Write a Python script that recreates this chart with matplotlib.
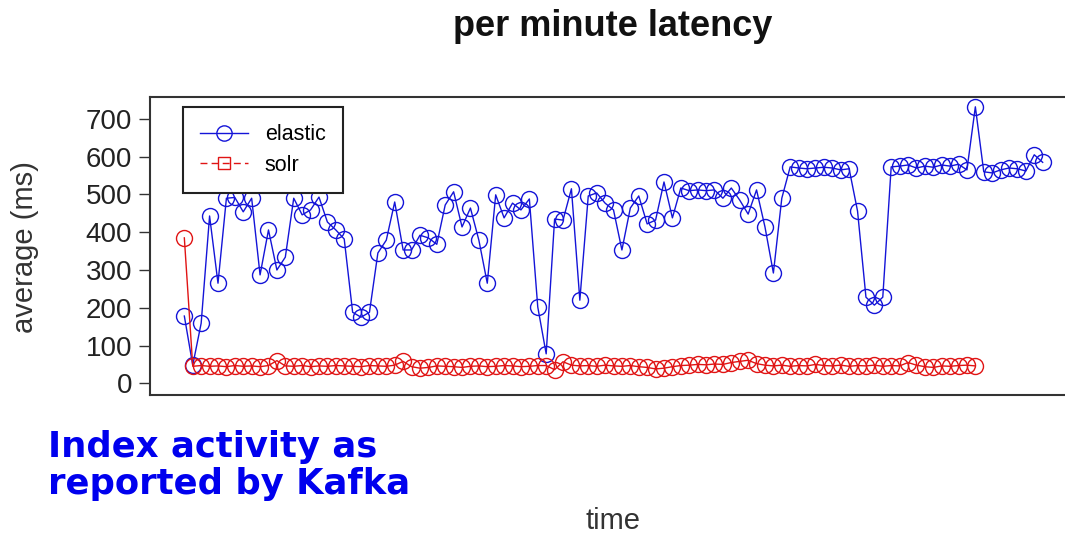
#
# per minute latency, elastic vs solr
#
import numpy as np
import matplotlib
matplotlib.use('agg')
import matplotlib.pyplot as plt
from matplotlib.lines import Line2D

plt.rcParams["font.family"] = ["Liberation Sans", "DejaVu Sans"]

elastic = [178, 48, 159, 443, 265, 490, 492, 454, 490, 287,
           406, 300, 334, 490, 446, 459, 493, 427, 406, 382,
           188, 175, 188, 345, 379, 480, 353, 353, 392, 385,
           368, 472, 507, 414, 464, 379, 265, 499, 438, 477,
           459, 488, 202, 78, 435, 432, 515, 220, 496, 504,
           477, 459, 353, 464, 496, 422, 432, 533, 438, 517,
           510, 512, 510, 512, 490, 517, 485, 448, 512, 414,
           292, 490, 573, 570, 568, 570, 572, 570, 565, 568,
           456, 228, 207, 228, 573, 575, 578, 570, 575, 572,
           578, 575, 580, 565, 732, 560, 557, 565, 570, 568,
           562, 605, 585]

solr = [385, 45, 47, 45, 46, 44, 47, 45, 46, 44, 47,
        60, 46, 45, 47, 44, 46, 45, 47, 46, 45,
        44, 47, 46, 45, 48, 58, 44, 40, 42, 46,
        45, 44, 42, 45, 46, 44, 45, 47, 46, 44,
        45, 47, 47, 36, 57, 48, 46, 47, 45, 48,
        46, 45, 47, 44, 42, 38, 40, 44, 47, 48,
        50, 49, 51, 50, 55, 58, 61, 52, 48, 46,
        48, 45, 47, 46, 50, 47, 46, 48, 45, 47,
        46, 48, 45, 47, 46, 55, 48, 44, 42, 46,
        45, 47, 48, 46]

yticks = [0, 100, 200, 300, 400, 500, 600, 700]

W, H = 1065, 536
fig = plt.figure(figsize=(W / 100, H / 100), dpi=100)
# axes box runs a bit past the right edge of the picture
ax = fig.add_axes([150 / W, 1 - 395 / H, (1077 - 150) / W, (395 - 97) / H])

t_el = np.arange(1, len(elastic) + 1)
t_so = np.arange(1, len(solr) + 1)
ax.plot(t_el, elastic, color="#1414d8", lw=1.0, marker="o", ms=11.5,
        mfc="none", mec="#1414d8", mew=1.0)
ax.plot(t_so, solr, color="#e01414", lw=1.0, marker="o", ms=11.5,
        mfc="none", mec="#e01414", mew=1.0)

n = len(elastic) - 1
ax.set_xlim(1 - 0.04 * n, len(elastic) + 0.04 * n)
ax.set_ylim(-31, 758)
ax.set_xticks([])
ax.set_yticks(yticks)
ax.set_yticklabels([str(v) for v in yticks], fontsize=20, color="#222222")
ax.tick_params(axis="y", length=8, width=1, color="#333333", pad=5)
for s in ax.spines.values():
    s.set_linewidth(1.5)
    s.set_color("#333333")

handles = [Line2D([], [], color="#1414d8", lw=1.0, marker="o", ms=11, mfc="none", mew=1.0),
           Line2D([], [], color="#e01414", lw=1.0, ls=(0, (5, 3)), marker="s", ms=9, mfc="none", mew=1.0)]
leg = ax.legend(handles, ["elastic", "solr"], loc="upper left",
                bbox_to_anchor=((183 - 150) / (1077 - 150), 1 - (107 - 97) / (395 - 97)),
                fontsize=15.5, handlelength=2.2, handletextpad=0.8, borderpad=0.8,
                labelspacing=0.45, fancybox=False, framealpha=1, borderaxespad=0)
leg.get_frame().set_edgecolor("#222222")
leg.get_frame().set_linewidth(1.5)

fig.text(613 / W, 1 - 26 / H, "per minute latency", ha="center", va="center",
         fontsize=26, fontweight="bold", color="#111111")
fig.text(25 / W, 1 - 247 / H, "average (ms)", ha="center", va="center",
         rotation=90, fontsize=21, color="#333333")
fig.text(613 / W, 1 - 521 / H, "time", ha="center", va="center",
         fontsize=21, color="#333333")
fig.text(48 / W, 1 - 430 / H, "Index activity as\nreported by Kafka", ha="left", va="top",
         fontsize=25.5, fontweight="bold", color="#0000ee", linespacing=1.12,
         family="DejaVu Sans")

plt.savefig("out.png", dpi=100)
